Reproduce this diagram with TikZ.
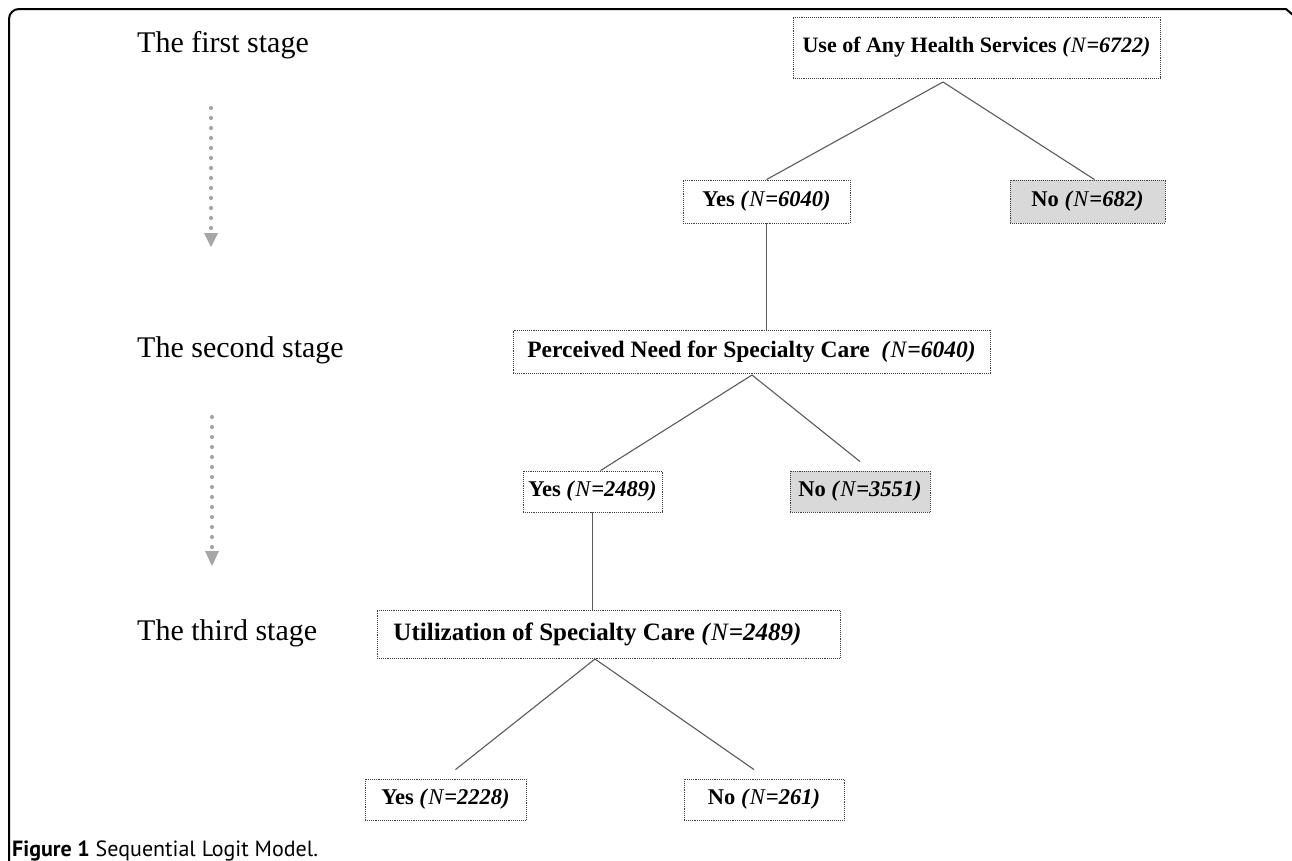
\documentclass[tikz,border=0pt]{standalone}
\usepackage{fontspec}
\setmainfont{Liberation Serif}
\newfontfamily\capfont{PT Sans}
\usetikzlibrary{calc}
\definecolor{boxgray}{HTML}{D9D9D9}
\definecolor{linegray}{HTML}{5A5A5A}
\definecolor{arrowgray}{HTML}{A6A6A6}
\newcommand{\Nval}[1]{\textit{(}{\mdseries\textit{N}}\textit{=#1)}}
\begin{document}
\begin{tikzpicture}[x=1pt,y=-1pt,
  box/.style={draw=black!75, densely dotted, line width=0.9pt, fill=white, inner sep=0pt,
    minimum height=43pt, font=\fontsize{22.5}{26}\selectfont\bfseries, align=center},
  nobox/.style={box, fill=boxgray},
  conn/.style={draw=linegray, line width=1.1pt},
  stagelbl/.style={anchor=west, inner sep=0pt, font=\fontsize{30}{34}\selectfont},
  arrowdots/.style={draw=arrowgray, line width=4.2pt, line cap=round, dash pattern=on 0pt off 10pt},
  arrowhd/.style={fill=arrowgray}
]
\useasboundingbox (0,0) rectangle (1292,860);

% frame
\draw[line width=2pt, rounded corners=10pt] (9,861) -- (9,9) [sharp corners] -- (1286,9) -- (1293,15);

% stage labels
\node[stagelbl] (s1) at (137,45) {The first stage};
\node[stagelbl] (s2) at (137,350) {The second stage};
\node[stagelbl] (s3) at (137,633) {The third stage};

% dotted arrows
\coordinate (d1a) at (211,108);
\coordinate (d1b) at (211,229);
\draw[arrowdots] (d1a) -- (d1b);
\fill[arrowhd] (204,233) -- (218,233) -- (211,247) -- cycle;
\coordinate (d2a) at (212,417);
\coordinate (d2b) at (212,548);
\draw[arrowdots] (d2a) -- (d2b);
\fill[arrowhd] (205,551) -- (219,551) -- (212,566) -- cycle;

% boxes
\node[box, minimum width=367pt, minimum height=61pt, font=\fontsize{22}{26}\selectfont\bfseries] (use) at (976.5,47.5) {Use of Any Health Services \Nval{6722}};
\node[box, minimum width=167pt] (yesA) at (766.5,201.5) {Yes \Nval{6040}};
\node[nobox, minimum width=155pt] (noA) at (1087.5,201.5) {No \Nval{682}};
\node[box, minimum width=477pt, font=\fontsize{23.5}{27}\selectfont\bfseries] (need) at (751.5,351.5) {Perceived Need for Specialty Care\ \ \Nval{6040}};
\node[box, minimum width=139pt, minimum height=41pt] (yesB) at (592.5,491.5) {Yes \Nval{2489}};
\node[nobox, minimum width=140pt, minimum height=41pt] (noB) at (860,491.5) {No \Nval{3551}};
\node[box, minimum width=463pt, minimum height=48pt, font=\fontsize{25}{29}\selectfont\bfseries] (util) at (608.5,634) {Utilization of Specialty Care \Nval{2489}\hspace*{22pt}};
\node[box, minimum width=161pt, minimum height=41pt] (yesC) at (445.5,799.5) {Yes \Nval{2228}};
\node[box, minimum width=160pt, minimum height=41pt] (noC) at (764,799.5) {No \Nval{261}};

% connectors
\coordinate (apexA) at (943,82);
\draw[conn] (apexA) -- (yesA.north);
\draw[conn] (apexA) -- ([xshift=7pt]noA.north);
\draw[conn] (yesA.south) -- (yesA.south |- need.north);
\coordinate (apexB) at (752,375);
\draw[conn] (apexB) -- ([xshift=8pt]yesB.north);
\draw[conn] (apexB) -- ([yshift=9pt]noB.north);
\draw[conn] (yesB.south) -- (yesB.south |- util.north);
\coordinate (apexC) at (595,659);
\draw[conn] (apexC) -- ([xshift=10pt,yshift=9pt]yesC.north);
\draw[conn] (apexC) -- ([xshift=-10pt,yshift=9pt]noC.north);

% caption
\node[anchor=base west, inner sep=0pt, font=\capfont\fontsize{22}{26}\selectfont] (cap) at (12,856) {\textbf{Figure 1} Sequential Logit Model.};
\end{tikzpicture}
\end{document}
